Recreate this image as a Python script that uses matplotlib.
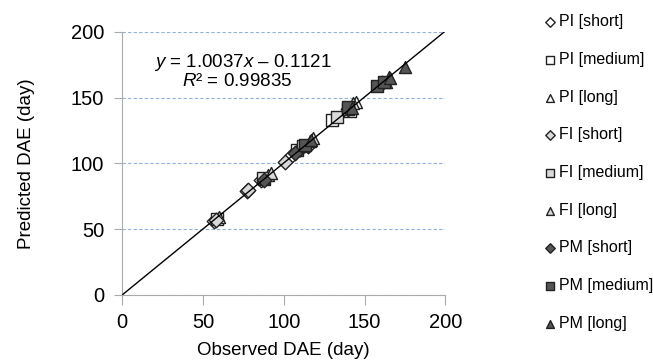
import numpy as np
import matplotlib.pyplot as plt

plt.rcParams['font.family'] = ['Liberation Sans', 'DejaVu Sans']
plt.rcParams['mathtext.fontset'] = 'custom'
plt.rcParams['mathtext.it'] = 'Liberation Sans:italic'
plt.rcParams['mathtext.rm'] = 'Liberation Sans'

labels = ['PI [short]', 'PI [medium]', 'PI [long]',
          'FI [short]', 'FI [medium]', 'FI [long]',
          'PM [short]', 'PM [medium]', 'PM [long]']

# observed / predicted DAE per series
obs = [
    [57, 77, 86, 105, 115],
    [59, 88, 108, 130, 141],
    [60, 90, 116, 145, 163],
    [58, 78, 101, 110],
    [87, 112, 133, 140],
    [92, 118, 143, 165],
    [88, 107, 140, 161],
    [113, 140, 158, 162],
    [117, 142, 166, 175],
]
pred = [
    [56, 79, 87, 106, 113],
    [58, 88, 110, 133, 140],
    [59, 91, 117, 147, 162],
    [57, 80, 101, 111],
    [89, 113, 135, 141],
    [93, 119, 146, 166],
    [87, 108, 141, 161],
    [114, 143, 159, 162],
    [118, 142, 165, 173],
]

markers = ['D', 's', '^'] * 3
faces = ['white'] * 3 + ['#d9d9d9'] * 3 + ['#555555'] * 3
sizes = [55, 70, 75] * 3

slope, icpt = 1.0037, -0.1121

fig = plt.figure(figsize=(6.53, 3.64), dpi=100)
ax = fig.add_axes([0.187, 0.19, 0.495, 0.7225])

ax.set_axisbelow(True)
ax.yaxis.grid(True, color='#8fb0e0', linestyle=(0, (3, 2)), linewidth=0.8)

for i in range(9):
    ax.scatter(obs[i], pred[i], marker=markers[i], s=sizes[i],
               facecolor=faces[i], edgecolor='#222222', linewidth=1.0,
               label=labels[i], zorder=3)

xs = np.array([0, 200])
ax.plot(xs, slope * xs + icpt, color='black', linewidth=1.0, zorder=4)

ax.text(20, 177, '$y$ = 1.0037$x$ – 0.1121', fontsize=13.5, ha='left', va='center')
ax.text(71, 162, '$R$² = 0.99835', fontsize=13.5, ha='center', va='center')

ax.set_xlim(0, 200)
ax.set_ylim(0, 200)
ax.set_xticks([0, 50, 100, 150, 200])
ax.set_yticks([0, 50, 100, 150, 200])
ax.tick_params(labelsize=14.5, color='#aaaaaa')
ax.tick_params(axis='x', length=7, pad=6)
ax.tick_params(axis='y', length=6, pad=7)
for s in ['top', 'right']:
    ax.spines[s].set_visible(False)
for s in ['left', 'bottom']:
    ax.spines[s].set_color('#aaaaaa')

ax.set_xlabel('Observed DAE (day)', fontsize=13.5, labelpad=7)
ax.set_ylabel('Predicted DAE (day)', fontsize=13.5, labelpad=26)

handles, labs = ax.get_legend_handles_labels()
fig.legend(handles, labs, loc='upper left', bbox_to_anchor=(0.81, 1.0),
           frameon=False, fontsize=11.5, labelspacing=1.42,
           handletextpad=0.2, handlelength=0.8, markerscale=0.65)

fig.savefig('out.png', dpi=100)
